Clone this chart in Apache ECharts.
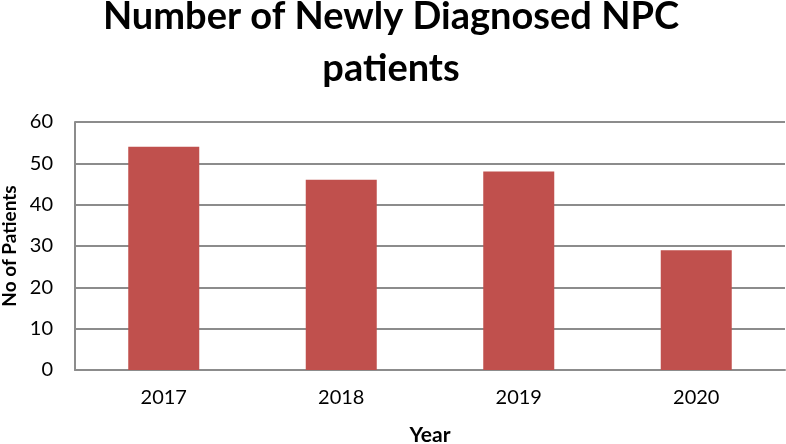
<!DOCTYPE html>
<html>
<head>
<meta charset="utf-8">
<script src="https://cdn.jsdelivr.net/npm/echarts@6/dist/echarts.min.js"></script>
<style>
html,body{margin:0;padding:0;background:#fff;}
#chart{width:786px;height:444px;}
</style>
</head>
<body>
<div id="chart"></div>
<script>
const years = ['2017', '2018', '2019', '2020'];
const patients = [54, 46, 48, 29];
const titleText = 'Number of Newly Diagnosed NPC\npatients';
const yTicks = { min: 0, max: 60, interval: 10 };

const chart = echarts.init(document.getElementById('chart'), null, { renderer: 'canvas' });
const font = 'Lato, "Liberation Sans", sans-serif';
chart.setOption({
  animation: false,
  backgroundColor: '#ffffff',
  title: {
    text: titleText, left: 386, top: -14, textAlign: 'center',
    textStyle: { fontFamily: font, fontWeight: 'bold', fontSize: 38, lineHeight: 52, color: '#000' }
  },
  grid: { left: 75, right: 1, top: 122, bottom: 74, containLabel: false, outerBoundsMode: 'none' },
  xAxis: {
    type: 'category',
    data: years,
    name: 'Year',
    nameLocation: 'middle',
    nameGap: 55,
    nameTextStyle: { fontFamily: font, fontWeight: 'bold', fontSize: 21, color: '#000' },
    axisLine: { lineStyle: { color: '#8c8c8c', width: 2 } },
    axisTick: { show: false },
    axisLabel: { fontFamily: font, fontSize: 20, color: '#000', margin: 18 }
  },
  yAxis: {
    type: 'value',
    min: yTicks.min, max: yTicks.max, interval: yTicks.interval,
    name: 'No of Patients',
    nameLocation: 'middle',
    nameGap: 56,
    nameTextStyle: { fontFamily: font, fontWeight: 'bold', fontSize: 19, color: '#000' },
    axisLine: { show: true, lineStyle: { color: '#8c8c8c', width: 2 } },
    axisTick: { show: false },
    axisLabel: { fontFamily: font, fontSize: 20, color: '#000', margin: 22 },
    splitLine: { lineStyle: { color: '#8c8c8c', width: 2 } }
  },
  series: [{
    type: 'bar',
    data: patients,
    barWidth: '40%',
    itemStyle: { color: '#C0504D' }
  }]
});
</script>
</body>
</html>
